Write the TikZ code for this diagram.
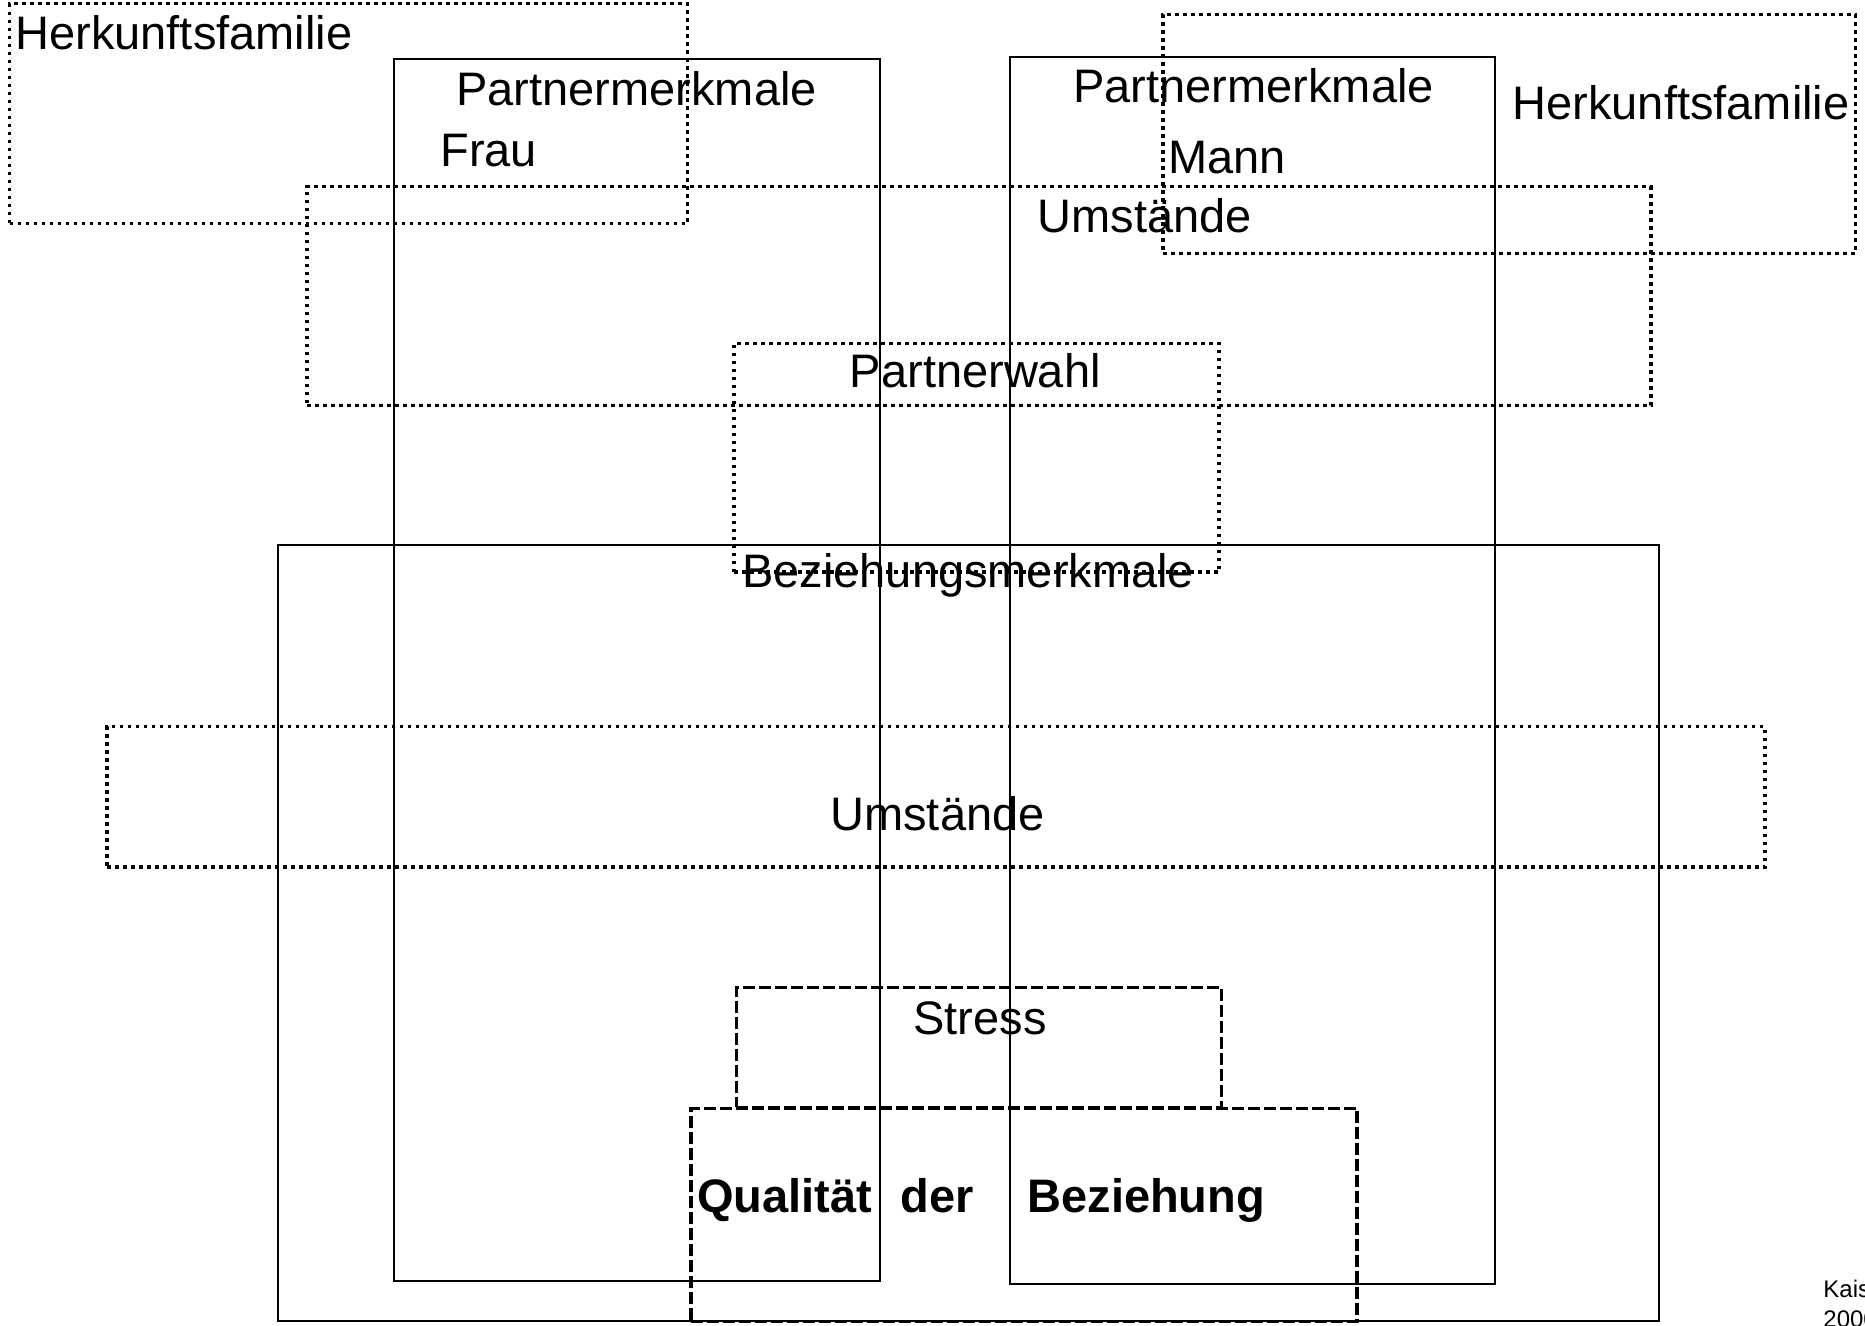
\documentclass[tikz,border=0pt]{standalone}
\usepackage{fontspec}
\setmainfont{Liberation Sans}
\usetikzlibrary{fit}
\begin{document}
\begin{tikzpicture}[x=0.5pt, y=-0.5pt,
  solidbox/.style={draw, line width=1pt, inner sep=0pt},
  dotbox/.style={draw, line width=1.7pt, dash pattern=on 1.8pt off 2.2pt, inner sep=0pt},
  dashbox/.style={draw, line width=1.7pt, dash pattern=on 6pt off 2pt, inner sep=0pt},
  lbl/.style={font=\fontsize{23.5pt}{28pt}\selectfont, inner sep=0pt, anchor=base},
  lblw/.style={lbl, anchor=base west},
  smalltxt/.style={font=\fontsize{12pt}{15pt}\selectfont, inner sep=0pt, anchor=base west}]
\useasboundingbox (0,0) rectangle (1865,1326);

% family of origin, wife's side and husband's side
\node[dotbox, fit={(9.5,3.6) (687.5,223.6)}] (herkF) {};
\node[dotbox, fit={(1163,14.3) (1855.5,253.3)}] (herkM) {};

% partner characteristics
\node[solidbox, fit={(393.7,59.5) (880.2,1281)}] (frau) {};
\node[solidbox, fit={(1009.8,57.1) (1495.1,1284.2)}] (mann) {};

% circumstances at partner choice
\node[dotbox, fit={(306.9,186.7) (1650.9,405.6)}] (umst1) {};
\node[dotbox, fit={(733.9,343.7) (1219.1,572.1)}] (wahl) {};

% relationship characteristics
\node[solidbox, fit={(278.3,544.7) (1659.2,1321.4)}] (bez) {};
\node[dotbox, fit={(107,726.7) (1765,867.1)}] (umst2) {};

% stress and quality of the relationship
\node[dashbox, fit={(736.2,987.2) (1221.5,1107.3)}] (stress) {};
\node[dashbox, fit={(691,1108.5) (1357,1321.4)}] (qual) {};

% labels
\node[lblw] (tHerkF) at (15,50) {Herkunftsfamilie};
\node[lblw] (tFrau1) at (456,106) {Partnermerkmale};
\node[lblw] (tFrau2) at (440,167) {Frau};
\node[lbl] (tMann1) at (1253.6,103) {Partnermerkmale};
\node[lblw] (tMann2) at (1168,174) {Mann};
\node[lbl] (tHerkM) at (1681,120) {Herkunftsfamilie};
\node[lbl] (tUmst1) at (1145,233) {Umstände};
\node[lbl] (tWahl) at (975.3,388) {Partnerwahl};
\node[lbl] (tBez) at (968.2,588) {Beziehungsmerkmale};
\node[lblw] (tUmst2) at (830,830) {Umstände};
\node[lblw] (tStress) at (913,1034) {Stress};
\node[lblw] (tQual) at (697,1212)
  {\textbf{Qualität}\hspace{14pt}\textbf{der}\hspace{27pt}\textbf{Beziehung}};

% source note at the lower right
\begin{scope}
  \clip (0,0) rectangle (1865,1326);
  \node[smalltxt] (src1) at (1823,1297) {Kaiser};
  \node[smalltxt] (src2) at (1823,1327) {2000};
\end{scope}
\end{tikzpicture}
\end{document}
